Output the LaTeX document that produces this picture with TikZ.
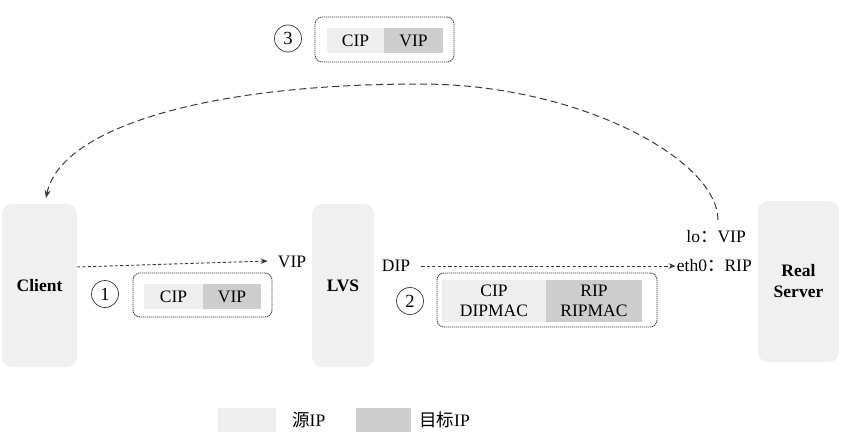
\documentclass[tikz,border=0pt]{standalone}
\usepackage{fontspec}
\setmainfont{Liberation Serif}
\newfontfamily\cjk{Noto Sans CJK SC}
\usetikzlibrary{arrows.meta,calc}
\definecolor{boxfill}{HTML}{F0F0F0}
\definecolor{srcfill}{HTML}{EEEEEE}
\definecolor{dstfill}{HTML}{CDCDCD}
\definecolor{linegray}{HTML}{3A3A3A}
\tikzset{
  txt/.style={font=\fontsize{17.5}{20}\selectfont, inner sep=1pt, text=black},
  sysbox/.style={txt, font=\fontsize{17.5}{21}\selectfont\bfseries, fill=boxfill, draw=none, rounded corners=10pt, align=center},
  cell/.style={txt, draw=none, inner sep=0pt, align=center},
  srccell/.style={cell, fill=srcfill},
  dstcell/.style={cell, fill=dstfill},
  frame/.style={draw=linegray, line width=0.9pt, dash pattern=on 1.2pt off 0.8pt, rounded corners=7pt, inner sep=0pt},
  numcirc/.style={txt, font=\fontsize{18.5}{20}\selectfont, circle, draw=linegray, line width=0.7pt, minimum size=27pt, inner sep=0pt},
  flow/.style={draw=linegray, line width=0.9pt, dash pattern=on 3.2pt off 2.2pt, -{Stealth[length=7pt,width=5.5pt]}},
  backflow/.style={draw=linegray, line width=1pt, dash pattern=on 7pt off 4pt, -{Stealth[length=8pt,width=6pt]}},
}
\begin{document}
\begin{tikzpicture}[x=1pt,y=-1pt]
\useasboundingbox (0,0) rectangle (844,447);

% systems
\node[sysbox, minimum width=75pt, minimum height=163pt] (client) at (39.5,285.5) {Client};
\node[sysbox, minimum width=62pt, minimum height=163pt] (lvs) at (343,285.5) {LVS};
\node[sysbox, minimum width=81pt, minimum height=161pt] (rs) at (798.5,281.5) {Real\\Server};

% labels
\node[txt] (vip1) at (292,262) {VIP};
\node[txt] (dip) at (396,266) {DIP};
\node[txt, anchor=east] (lo) at (747,237) {lo{\cjk ：}VIP};
\node[txt, anchor=east] (eth) at (753,266) {eth0{\cjk ：}RIP};

% packet 1
\node[frame, minimum width=139pt, minimum height=44pt] (f1) at (202.5,295) {};
\node[srccell, minimum width=59pt, minimum height=25pt] (c1a) at (173.5,296.5) {CIP};
\node[dstcell, minimum width=58pt, minimum height=25pt] (c1b) at (232,296.5) {VIP};
\node[numcirc] (n1) at (105,294) {1};

% packet 2
\node[frame, minimum width=220pt, minimum height=54pt] (f2) at (547,300) {};
\node[srccell, minimum width=104pt, minimum height=42pt] (c2a) at (494,301) {CIP\\DIPMAC};
\node[dstcell, minimum width=96pt, minimum height=42pt] (c2b) at (594,301) {RIP\\RIPMAC};
\node[numcirc] (n2) at (410,301) {2};

% packet 3
\node[frame, minimum width=139pt, minimum height=45pt] (f3) at (384.5,39.5) {};
\node[srccell, minimum width=57pt, minimum height=25pt] (c3a) at (355.5,40.5) {CIP};
\node[dstcell, minimum width=59pt, minimum height=25pt] (c3b) at (413.5,40.5) {VIP};
\node[numcirc] (n3) at (288,38.5) {3};

% connectors
\coordinate (a1s) at (77,267);
\draw[flow] (a1s) -- ([xshift=-9pt,yshift=1pt]vip1.west);
\draw[flow] ([xshift=10pt]dip.east) -- (eth.west);
\coordinate (backstart) at (718,220);
\coordinate (peak) at (420,84);
\coordinate (backend) at (46,198);
\draw[backflow] (backstart) .. controls (718,160) and (580,84) .. (peak)
  .. controls (200,84) and (60,130) .. (backend);

% legend
\node[srccell, minimum width=58pt, minimum height=24pt] (lg1) at (247,420) {};
\node[txt, anchor=west] (lg1t) at (291,420) {{\cjk 源}IP};
\node[dstcell, minimum width=55pt, minimum height=24pt] (lg2) at (383.5,420) {};
\node[txt, anchor=west] (lg2t) at (418,420) {{\cjk 目标}IP};
\end{tikzpicture}
\end{document}
